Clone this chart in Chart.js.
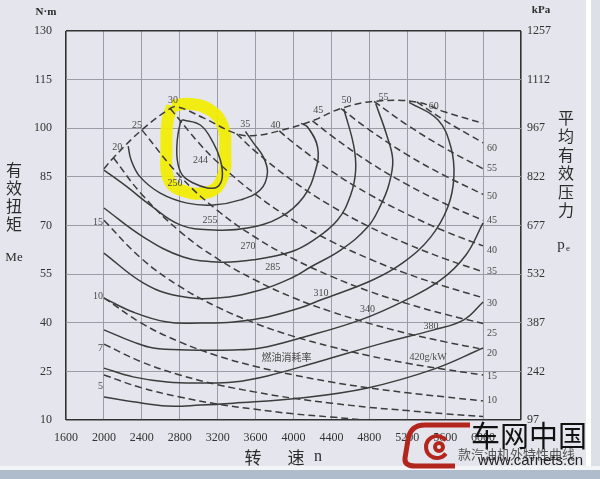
<!DOCTYPE html>
<html>
<head>
<meta charset="utf-8">
<script src="https://cdn.jsdelivr.net/npm/chart.js@4.4.0/dist/chart.umd.min.js"></script>
<style>
  html, body { margin: 0; padding: 0; background: #e5e5ed; }
</style>
</head>
<body>
<canvas id="mapChart" width="600" height="479"></canvas>
<script>
// Ejes
const speedTicks = [1600, 2000, 2400, 2800, 3200, 3600, 4000, 4400, 4800, 5200, 5600, 6000, 6400]
const torqueTicks = [10, 25, 40, 55, 70, 85, 100, 115, 130]
const pressureTicks = [97, 242, 387, 532, 677, 822, 967, 1112, 1257]

// Curva de plena carga (rpm, N·m)
const fullLoad = [[2000, 87.5], [2100, 90.9], [2400, 99.5], [2700, 106.1], [2780, 106.6], [3050, 103.2], [3400, 98.3], [3600, 97.8], [3850, 99.2], [4200, 102.3], [4500, 106.1], [4850, 108.3], [5300, 108.1], [5600, 105.0], [6000, 101.5]]

// Curvas de consumo específico (g/kWh)
const bsfc244 = [[2826, 102.6], [3017, 101.0], [3154, 95.5], [3228, 90.2], [3249, 85.0], [3197, 81.9], [3091, 81.6], [2943, 83.1], [2826, 85.6], [2774, 90.2], [2774, 96.4], [2805, 101.6], [2826, 102.6]]
const bsfc250 = [[2256, 94.5], [2287, 90.2], [2382, 85.0], [2594, 80.0], [2879, 76.9], [3154, 76.3], [3440, 77.9], [3651, 81.0], [3725, 86.2], [3683, 91.1], [3577, 95.5], [3493, 99.0]]
const bsfc255 = [[2000, 87.1], [2245, 81.9], [2488, 76.3], [2805, 70.2], [3154, 68.6], [3514, 69.2], [3863, 72.6], [4106, 78.8], [4233, 87.1], [4254, 94.2], [4148, 100.4], [4080, 101.5]]
const bsfc270 = [[2000, 75.4], [2414, 66.5], [2837, 60.3], [3228, 58.7], [3577, 59.4], [3968, 61.8], [4212, 65.5], [4465, 71.7], [4603, 79.4], [4656, 87.1], [4634, 94.8], [4530, 106.0]]
const bsfc285 = [[2000, 61.5], [2414, 52.3], [2774, 48.3], [3197, 47.6], [3651, 50.1], [4000, 54.1], [4180, 57.2], [4497, 62.4], [4782, 69.5], [4920, 76.3], [5005, 82.5], [5047, 90.2], [4983, 97.9], [4867, 107.6]]
const bsfc310 = [[2000, 47.6], [2308, 43.3], [2668, 40.2], [3017, 39.9], [3366, 40.2], [3725, 41.8], [4074, 44.6], [4286, 47.0], [4835, 53.2], [5163, 58.7], [5449, 66.5], [5628, 75.7], [5692, 85.0], [5660, 94.2], [5523, 102.6], [5220, 108.0]]
const bsfc340 = [[2000, 37.8], [2308, 34.1], [2520, 32.2], [2879, 31.6], [3366, 31.6], [3651, 32.2], [4074, 35.3], [4708, 40.9], [5184, 47.0], [5554, 53.2], [5819, 60.9], [6000, 70.8]]
const bsfc380 = [[2000, 26.0], [2308, 23.3], [2668, 21.7], [3017, 21.4], [3366, 21.7], [3725, 23.6], [4254, 27.9], [4952, 33.8], [5480, 37.8], [5797, 40.9], [6000, 46.4]]
const bsfc420 = [[2000, 17.1], [2308, 15.6], [2668, 14.3], [3017, 14.6], [3366, 15.2], [4074, 16.8], [4782, 19.9], [5480, 25.7], [6000, 32.2]]

// Líneas de potencia constante (kW)
const pow5 = [[2000, 23.9], [2400, 19.9], [2800, 17.1], [3200, 14.9], [3600, 13.3], [4000, 11.9], [4400, 10.9], [4750, 10.0]]
const pow7 = [[2000, 33.4], [2400, 27.9], [2800, 23.9], [3200, 20.9], [3600, 18.6], [4000, 16.7], [4400, 15.2], [4800, 13.9], [5200, 12.9], [5600, 11.9], [6000, 11.1]]
const pow10 = [[2000, 47.7], [2400, 39.8], [2800, 34.1], [3200, 29.8], [3600, 26.5], [4000, 23.9], [4400, 21.7], [4800, 19.9], [5200, 18.4], [5600, 17.1], [6000, 15.9]]
const pow15 = [[2000, 71.6], [2400, 59.7], [2800, 51.2], [3200, 44.8], [3600, 39.8], [4000, 35.8], [4400, 32.6], [4800, 29.8], [5200, 27.5], [5600, 25.6], [6000, 23.9]]
const pow20 = [[2100, 90.9], [2400, 79.6], [2800, 68.2], [3200, 59.7], [3600, 53.1], [4000, 47.7], [4400, 43.4], [4800, 39.8], [5200, 36.7], [5600, 34.1], [6000, 31.8]]
const pow25 = [[2400, 99.5], [2800, 85.3], [3200, 74.6], [3600, 66.3], [4000, 59.7], [4400, 54.3], [4800, 49.7], [5200, 45.9], [5600, 42.6], [6000, 39.8]]
const pow30 = [[2700, 106.1], [3000, 95.5], [3200, 89.5], [3600, 79.6], [4000, 71.6], [4400, 65.1], [4800, 59.7], [5200, 55.1], [5600, 51.2], [6000, 47.7]]
const pow35 = [[3400, 98.3], [3600, 92.8], [4000, 83.6], [4400, 76.0], [4800, 69.6], [5200, 64.3], [5600, 59.7], [6000, 55.7]]
const pow40 = [[3850, 99.2], [4000, 95.5], [4400, 86.8], [4800, 79.6], [5200, 73.5], [5600, 68.2], [6000, 63.7]]
const pow45 = [[4200, 102.3], [4400, 97.7], [4800, 89.5], [5200, 82.6], [5600, 76.7], [6000, 71.6]]
const pow50 = [[4500, 106.1], [4800, 99.5], [5200, 91.8], [5600, 85.3], [6000, 79.6]]
const pow55 = [[4850, 108.3], [5200, 101.0], [5600, 93.8], [6000, 87.5]]
const pow60 = [[5300, 108.1], [5600, 102.3], [6000, 95.5]]

// Marca amarilla alrededor de la zona de mínimo consumo
const highlight = [[2720, 106.9], [2910, 107.5], [3120, 105.6], [3250, 101.0], [3280, 93.3], [3250, 84.7], [3101, 80.3], [2805, 81.0], [2678, 84.7], [2660, 93.3], [2670, 101.9], [2720, 106.9]]

// Etiquetas
const bsfcLabels = [['244', 3020, 90], ['250', 2750, 83], ['255', 3120, 71.5], ['270', 3520, 63.7], ['285', 3780, 57], ['310', 4290, 49.2], ['340', 4780, 44], ['380', 5450, 39], ['420g/kW', 5420, 29.4]]
const topPowerLabels = [['20', 2140, 94.2], ['25', 2350, 101], ['30', 2730, 108.5], ['35', 3490, 101.3], ['40', 3810, 101], ['45', 4260, 105.6], ['50', 4560, 108.7], ['55', 4950, 109.6], ['60', 5480, 106.6]]
const leftPowerLabels = [['15', 1990, 71], ['10', 1990, 48], ['7', 1990, 32], ['5', 1990, 20.5]]
const rightPowerLabels = [['60', 6040, 93.9], ['55', 6040, 87.7], ['50', 6040, 79.1], ['45', 6040, 71.7], ['40', 6040, 62.4], ['35', 6040, 55.7], ['30', 6040, 46.1], ['25', 6040, 36.8], ['20', 6040, 30.4], ['15', 6040, 23.6], ['10', 6040, 15.9]]

const ink = '#3c3c3c'
const gridGray = '#9c9ca6'
const serif = '"Liberation Serif", "DejaVu Serif", serif'
const cjk = '"Noto Sans CJK SC", sans-serif'

// Crea un dataset de línea
function curve(points, dashed) {
  return {
    data: points.map(([x, y]) => ({ x, y })),
    borderColor: ink,
    borderWidth: 1.5,
    borderDash: dashed ? [7, 4] : [],
    pointRadius: 0,
    tension: 0.4,
    fill: false,
    order: 0,
  }
}

const datasets = [
  ...[bsfc244, bsfc250, bsfc255, bsfc270, bsfc285, bsfc310, bsfc340, bsfc380, bsfc420].map((c) => curve(c, false)),
  ...[fullLoad, pow5, pow7, pow10, pow15, pow20, pow25, pow30, pow35, pow40, pow45, pow50, pow55, pow60].map((c) => curve(c, true)),
  {
    data: highlight.map(([x, y]) => ({ x, y })),
    borderColor: 'rgba(242, 238, 0, 0.92)',
    borderWidth: 12,
    pointRadius: 0,
    tension: 0.45,
    fill: false,
    order: 5,
  },
]

// Textos sobre el gráfico
const textPlugin = {
  id: 'mapTexts',
  beforeDraw(chart) {
    const { ctx } = chart
    ctx.save()
    ctx.fillStyle = '#e5e5ed'
    ctx.fillRect(0, 0, 600, 479)
    ctx.fillStyle = '#ffffff'
    ctx.fillRect(586, 0, 5, 468)
    ctx.fillStyle = '#dde1e7'
    ctx.fillRect(591, 0, 9, 479)
    ctx.fillStyle = '#f4f5f7'
    ctx.fillRect(0, 466, 600, 4)
    ctx.fillStyle = '#aebccb'
    ctx.fillRect(0, 470, 600, 9)
    ctx.restore()
  },
  afterDatasetsDraw(chart) {
    const { ctx, scales: { x, y } } = chart
    const put = (list, align) => {
      ctx.textAlign = align
      list.forEach(([t, rpm, nm]) => ctx.fillText(t, x.getPixelForValue(rpm), y.getPixelForValue(nm)))
    }
    ctx.save()
    ctx.textBaseline = 'middle'
    ctx.fillStyle = '#4a4a4a'
    ctx.font = '10px ' + serif
    put(bsfcLabels, 'center')
    put(topPowerLabels, 'center')
    put(leftPowerLabels, 'right')
    put(rightPowerLabels, 'left')
    ctx.font = '10px ' + cjk
    ctx.textAlign = 'center'
    ctx.fillText('燃油消耗率', x.getPixelForValue(3926), y.getPixelForValue(29.4))
    ctx.restore()
  },
  afterDraw(chart) {
    const { ctx } = chart
    ctx.save()
    ctx.fillStyle = '#2c2c2c'
    ctx.textAlign = 'center'
    ctx.textBaseline = 'middle'
    ctx.font = 'bold 11px ' + serif
    ctx.fillText('N·m', 46, 12)
    ctx.fillText('kPa', 541, 10)
    ctx.font = '16px ' + cjk
    ;['有', '效', '扭', '矩'].forEach((c, i) => ctx.fillText(c, 14, 170 + i * 18))
    ;['平', '均', '有', '效', '压', '力'].forEach((c, i) => ctx.fillText(c, 566, 118 + i * 18.4))
    ctx.font = '17px ' + cjk
    ctx.fillText('转', 253, 458)
    ctx.fillText('速', 296, 458)
    ctx.font = '16px ' + serif
    ctx.fillText('n', 318, 457)
    ctx.font = '13px ' + serif
    ctx.fillText('Me', 14, 258)
    ctx.font = '15px ' + serif
    ctx.fillText('p', 561, 245)
    ctx.font = '9px ' + serif
    ctx.fillText('e', 568, 249)

    // Marca de agua
    ctx.strokeStyle = '#b3261e'
    ctx.lineWidth = 5
    ctx.beginPath()
    ctx.moveTo(470, 425)
    ctx.lineTo(425, 425)
    ctx.quadraticCurveTo(410, 425, 408, 440)
    ctx.lineTo(405, 458)
    ctx.quadraticCurveTo(404, 466, 415, 466)
    ctx.lineTo(455, 466)
    ctx.stroke()
    ctx.lineWidth = 4
    ctx.beginPath()
    ctx.arc(437, 447, 11, 0.2 * Math.PI, 1.8 * Math.PI)
    ctx.stroke()
    ctx.beginPath()
    ctx.arc(439, 447, 4, 0, 2 * Math.PI)
    ctx.stroke()
    ctx.fillStyle = '#111'
    ctx.textAlign = 'left'
    ctx.font = '29px ' + cjk
    ctx.fillText('车网中国', 471, 436)
    ctx.fillStyle = '#555'
    ctx.font = '13px ' + cjk
    ctx.fillText('款汽油机外特性曲线', 458, 454)
    ctx.fillStyle = '#222'
    ctx.font = '15px "Liberation Sans", sans-serif'
    ctx.fillText('www.carnets.cn', 478, 461)
    ctx.restore()
  },
}

const edgeColor = (edges) => (c) => (edges.includes(c.tick.value) ? '#333' : gridGray)
const edgeWidth = (edges) => (c) => (edges.includes(c.tick.value) ? 1.6 : 1)

new Chart(document.getElementById('mapChart'), {
  type: 'line',
  data: { datasets },
  plugins: [textPlugin],
  options: {
    responsive: false,
    animation: false,
    layout: { padding: { top: 31, left: 0, right: 0, bottom: 0 } },
    plugins: { legend: { display: false }, tooltip: { enabled: false } },
    scales: {
      x: {
        type: 'linear',
        min: 1600,
        max: 6400,
        afterBuildTicks: (s) => { s.ticks = speedTicks.map((v) => ({ value: v })) },
        afterFit: (s) => { s.height = 59 },
        border: { display: false },
        grid: { color: edgeColor([1600, 6400]), lineWidth: edgeWidth([1600, 6400]), drawTicks: false },
        ticks: {
          autoSkip: false,
          maxRotation: 0,
          padding: 11,
          color: '#333',
          font: { family: serif, size: 12 },
          callback: (v) => (v <= 6000 ? String(v) : ''),
        },
      },
      y: {
        position: 'left',
        min: 10,
        max: 130,
        afterBuildTicks: (s) => { s.ticks = torqueTicks.map((v) => ({ value: v })) },
        afterFit: (s) => { s.width = 66 },
        border: { display: false },
        grid: { color: edgeColor([10, 130]), lineWidth: edgeWidth([10, 130]), drawTicks: false },
        ticks: { padding: 14, color: '#333', font: { family: serif, size: 12 }, callback: (v) => String(v) },
      },
      y2: {
        position: 'right',
        min: 97,
        max: 1257,
        afterBuildTicks: (s) => { s.ticks = pressureTicks.map((v) => ({ value: v })) },
        afterFit: (s) => { s.width = 79 },
        border: { display: false },
        grid: { drawOnChartArea: false, drawTicks: false },
        ticks: { padding: 6, color: '#333', font: { family: serif, size: 12 }, callback: (v) => String(v) },
      },
    },
  },
})
</script>
</body>
</html>
